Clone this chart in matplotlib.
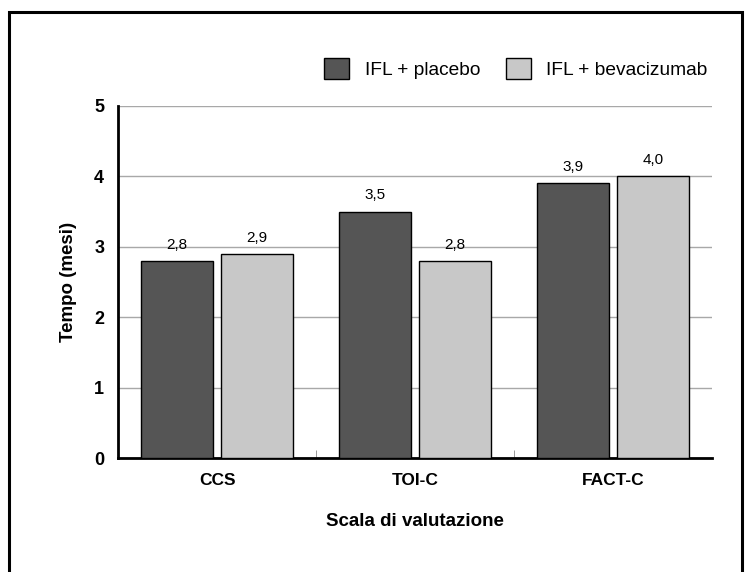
import numpy as np
import matplotlib.pyplot as plt
from matplotlib.patches import Rectangle

plt.rcParams['font.family'] = ['Liberation Sans', 'DejaVu Sans']

categories = ['CCS', 'TOI-C', 'FACT-C']
placebo = [2.8, 3.5, 3.9]
bevacizumab = [2.9, 2.8, 4.0]
series_names = ['IFL + placebo', 'IFL + bevacizumab']

fig = plt.figure(figsize=(7.47, 5.72), dpi=100)
ax = fig.add_axes([0.158, 0.199, 0.795, 0.616])

# outer frame around the whole picture
fig.patches.append(Rectangle((0.012, -0.01), 0.981, 0.989, transform=fig.transFigure,
                             fill=False, edgecolor='black', linewidth=2.2))

x = np.arange(len(categories))
w = 0.364
off = 0.202
b1 = ax.bar(x - off, placebo, w, color='#555555', edgecolor='black', linewidth=1,
            label=series_names[0], zorder=3)
b2 = ax.bar(x + off, bevacizumab, w, color='#c8c8c8', edgecolor='black', linewidth=1,
            label=series_names[1], zorder=3)

for bars, vals in [(b1, placebo), (b2, bevacizumab)]:
    for rect, v in zip(bars, vals):
        ax.text(rect.get_x() + rect.get_width() / 2, v + 0.13, f'{v:.1f}'.replace('.', ','),
                ha='center', va='bottom', fontsize=11)

ax.set_xlim(-0.5, 2.5)
ax.set_ylim(0, 5)
ax.set_yticks(range(6))
ax.yaxis.grid(True, color='#a8a8a8', linewidth=1)
ax.set_axisbelow(True)
ax.set_xticks(x)
ax.set_xticklabels(categories, fontweight='bold', fontsize=12.5)
ax.set_xticks([0.5, 1.5], minor=True)
ax.tick_params(axis='x', which='major', length=0, pad=11)
ax.tick_params(axis='x', which='minor', direction='in', length=6, color='#888888')
ax.tick_params(axis='y', length=0, pad=10, labelsize=13)
for lab in ax.get_yticklabels():
    lab.set_fontweight('bold')

for s in ['top', 'right']:
    ax.spines[s].set_visible(False)
ax.spines['left'].set_linewidth(2)
ax.spines['bottom'].set_linewidth(2)

ax.set_xlabel('Scala di valutazione', fontweight='bold', fontsize=13.5, labelpad=18)
ax.set_ylabel('Tempo (mesi)', fontweight='bold', fontsize=13.5, labelpad=12)

ax.legend(loc='center right', bbox_to_anchor=(0.993, 1.105), ncol=2, frameon=False,
          fontsize=13.8, handlelength=1.3, handleheight=1.3, columnspacing=1.35,
          handletextpad=0.8, borderaxespad=0, borderpad=0)

fig.savefig('out.png', dpi=100)
